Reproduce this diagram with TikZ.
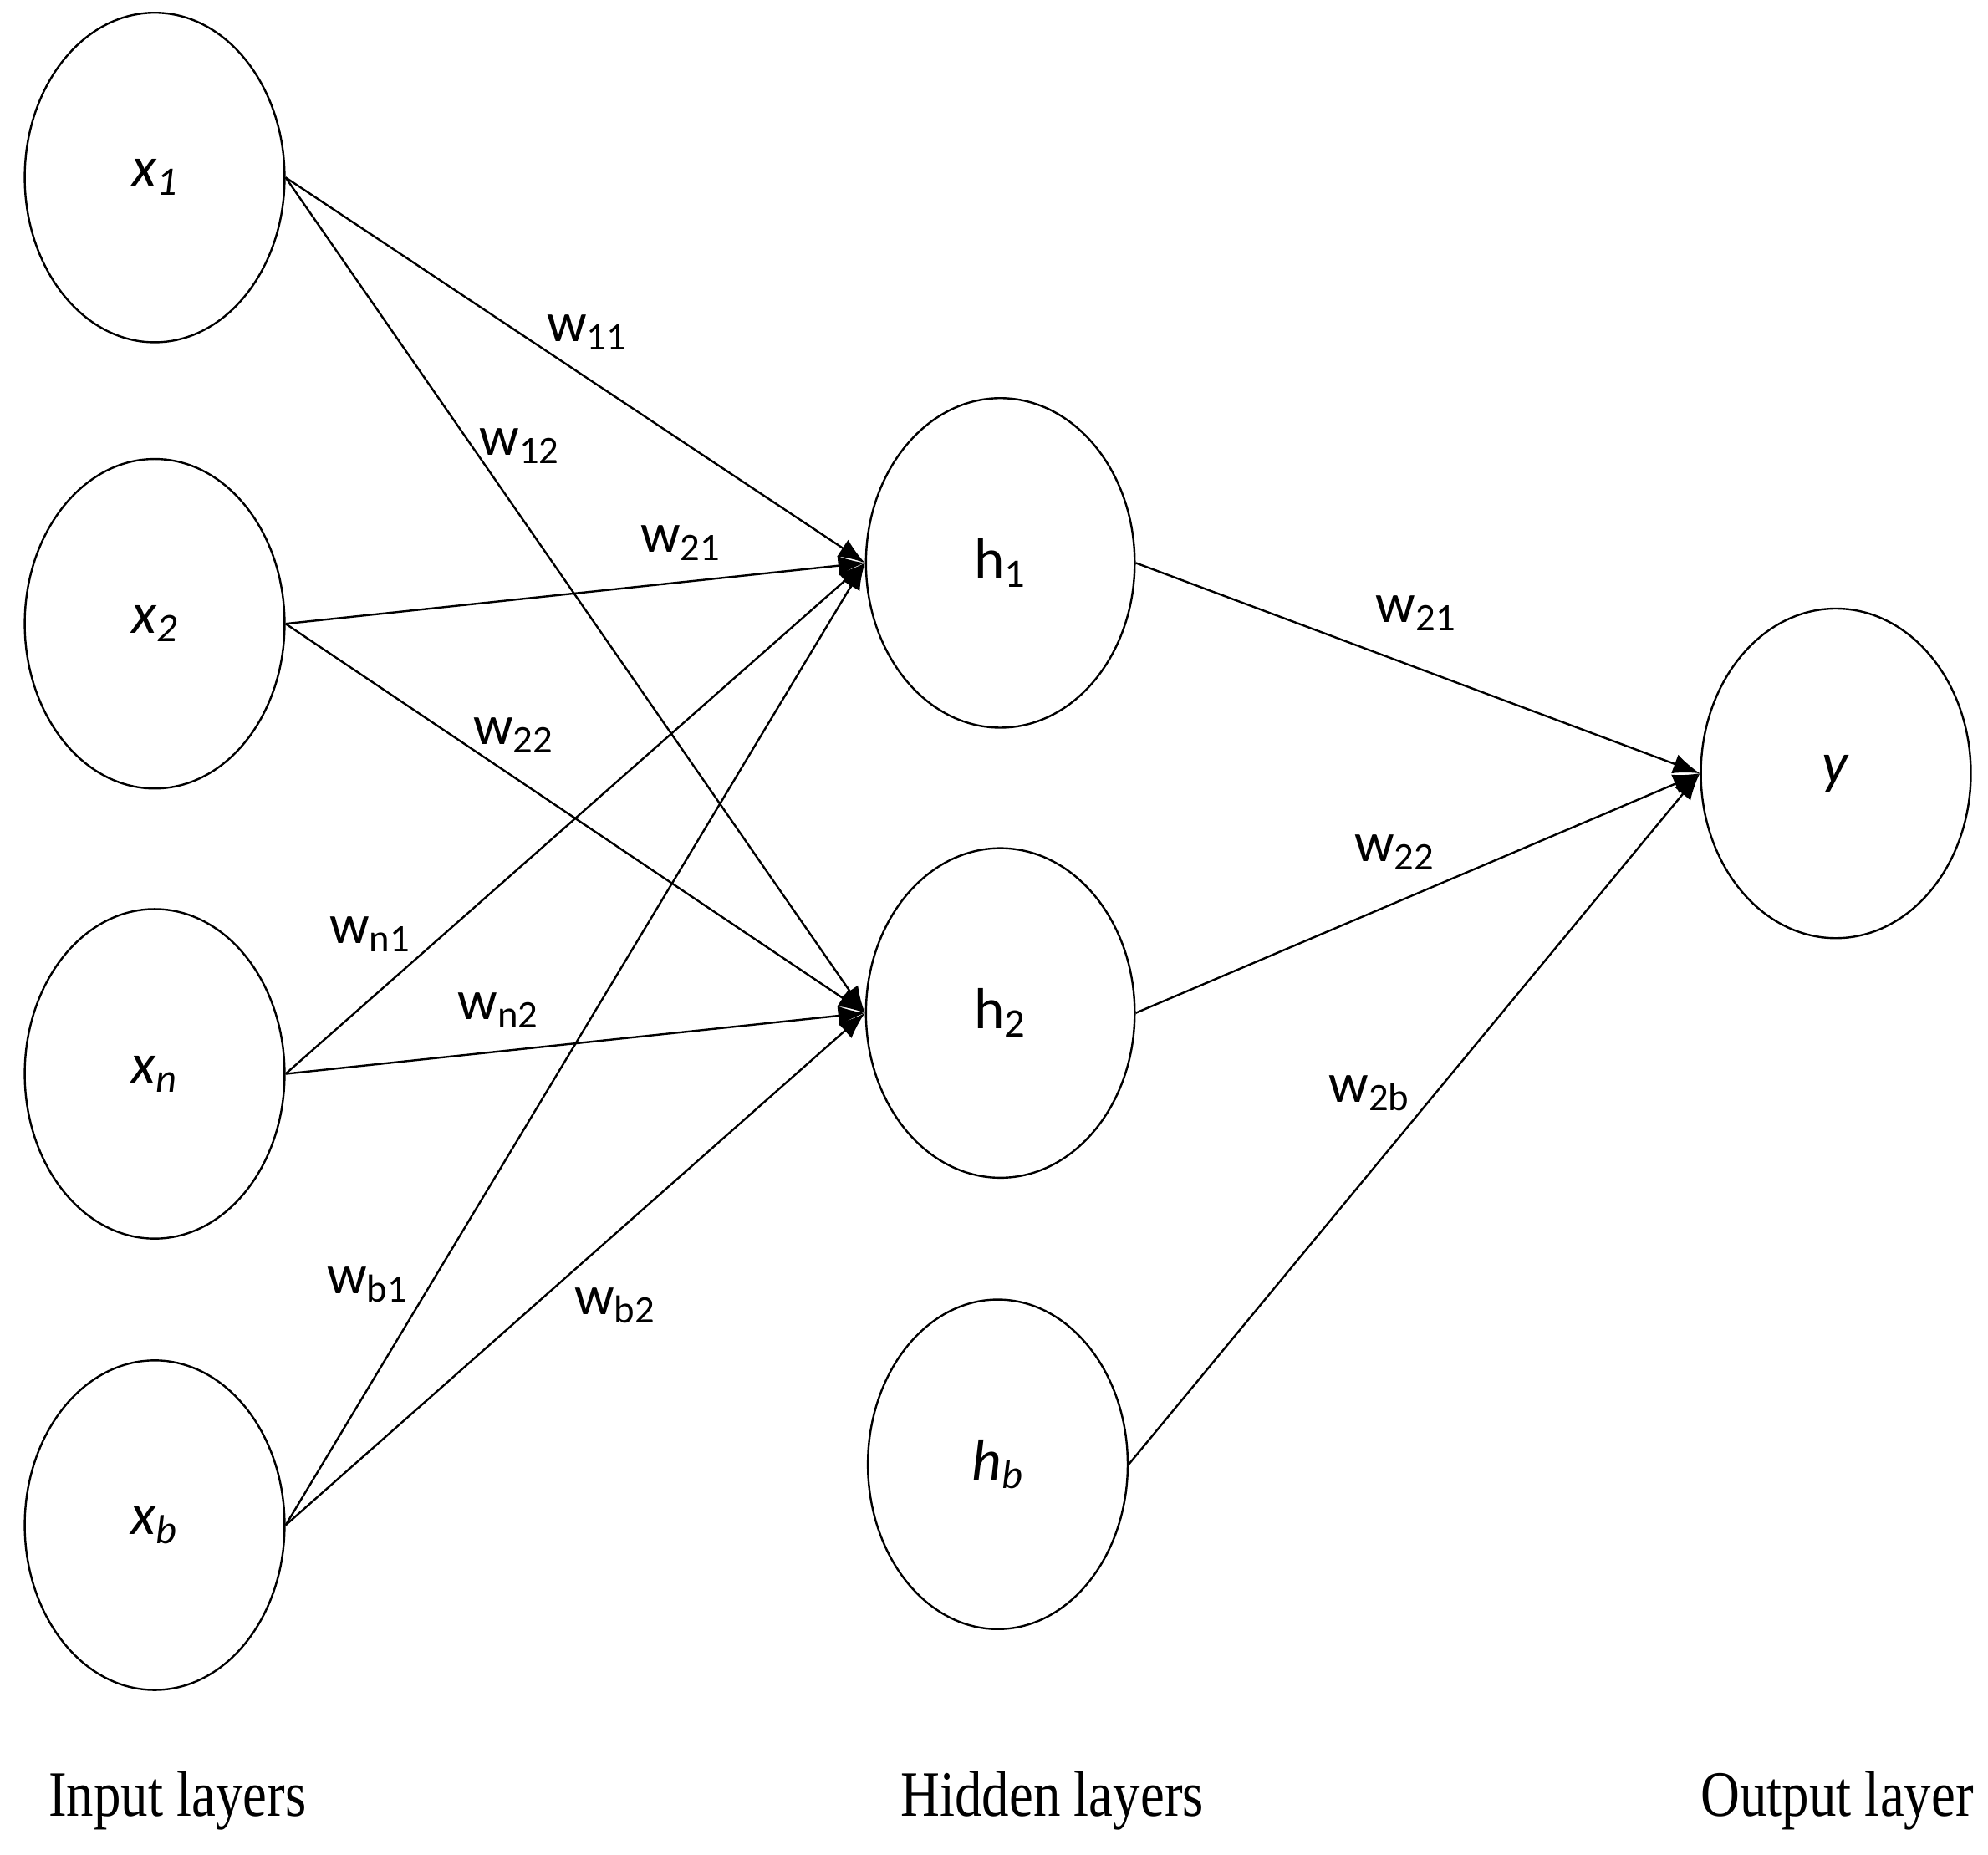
\documentclass[tikz,border=0pt]{standalone}
\usepackage{fontspec}
\setmainfont{Carlito}
\newfontfamily\capfont{Liberation Serif}
\usetikzlibrary{shapes.geometric,arrows.meta}
\begin{document}
\begin{tikzpicture}[x=0.02cm,y=-0.02cm,
  neuron/.style={ellipse,draw,line width=0.9pt,minimum width=4.1cm,minimum height=5.2cm,inner sep=0pt,font=\fontsize{26}{30}\selectfont},
  conn/.style={line width=0.9pt},
  arr/.style={conn,-{Latex[length=12pt,width=9pt]}},
  wl/.style={font=\fontsize{25}{30}\selectfont},
  layercap/.style={font=\capfont\fontsize{29}{34}\selectfont,xscale=0.84,inner sep=0pt}]
\useasboundingbox (0,0) rectangle (1568,1463);
\node[neuron] (x1) at (122,140) {\textit{x\textsubscript{1}}};
\node[neuron] (x2) at (122,492) {\textit{x\textsubscript{2}}};
\node[neuron] (xn) at (122,847) {\textit{x\textsubscript{n}}};
\node[neuron] (xb) at (122,1203) {\textit{x\textsubscript{b}}};
\node[neuron,minimum width=4.24cm] (h1) at (789,444) {h\textsubscript{1}};
\node[neuron,minimum width=4.24cm] (h2) at (789,799) {h\textsubscript{2}};
\node[neuron] (hb) at (787,1155) {\textit{h\textsubscript{b}}};
\node[neuron,minimum width=4.26cm] (y) at (1448,610) {\textit{y}};
\foreach \s in {x1,x2,xn,xb}{
  \draw[arr] (\s.east) -- (h1.west);
  \draw[arr] (\s.east) -- (h2.west);
}
\draw[arr] (h1.east) -- (y.west);
\draw[arr] (h2.east) -- (y.west);
\draw[arr] (hb.east) -- (y.west);
\node[wl] (l1) at (463,262) {w\textsubscript{11}};
\node[wl] (l2) at (410,352) {w\textsubscript{12}};
\node[wl] (l3) at (537,428) {w\textsubscript{21}};
\node[wl] (l4) at (405,580) {w\textsubscript{22}};
\node[wl] (l5) at (292,737) {w\textsubscript{n1}};
\node[wl] (l6) at (393,797) {w\textsubscript{n2}};
\node[wl] (l7) at (290,1013) {w\textsubscript{b1}};
\node[wl] (l8) at (485,1030) {w\textsubscript{b2}};
\node[wl] (l9) at (1117,484) {w\textsubscript{21}};
\node[wl] (l10) at (1100,672) {w\textsubscript{22}};
\node[wl] (l11) at (1080,862) {w\textsubscript{2b}};
\node[layercap] (c1) at (140,1420) {Input layers};
\node[layercap] (c2) at (830,1420) {Hidden layers};
\node[layercap] (c3) at (1449,1420) {Output layer};
\end{tikzpicture}
\end{document}
